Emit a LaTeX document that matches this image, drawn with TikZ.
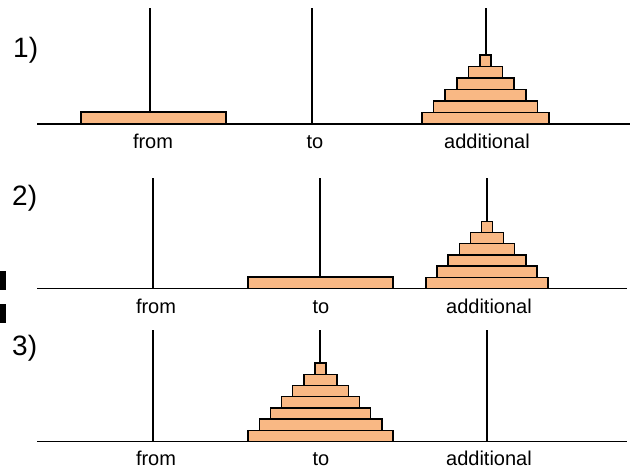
\documentclass[tikz,border=0pt]{standalone}
\usepackage{fontspec}
\setmainfont{Liberation Sans}
\usepackage{xcolor}
\usetikzlibrary{positioning}
\definecolor{DiskOrange}{HTML}{F9B884}

% stack of disks: x, base, count, width step, disk height
\newcommand{\diskstack}[5]{%
  \foreach \i in {1,...,#3} {
    \pgfmathsetmacro{\hw}{(11+#4*(#3-\i))/2}
    \draw[disk] ({#1-\hw},{#2-(\i-1)*#5}) rectangle ({#1+\hw},{#2-\i*#5});
  }%
}

\begin{document}
\begin{tikzpicture}[x=1pt, y=-1pt,
        peg/.style={draw=black, line width=1.4pt},
        ground/.style={draw=black, line width=1.6pt},
        disk/.style={draw=black, fill=DiskOrange, line width=1.5pt},
        panelnum/.style={anchor=base west, inner sep=0pt, font=\fontsize{28}{30}\selectfont},
        peglabel/.style={anchor=base, inner sep=0pt, font=\fontsize{20}{22}\selectfont}
    ]
        \useasboundingbox (0,0) rectangle (637,469);

        % marks on the left edge
        \fill[black] (0,271) rectangle (6,290);
        \fill[black] (0,304) rectangle (6,323);

        % Panel 1
        \node[panelnum] (num1) at (13,57) {1)};
        \draw[ground] (37,124) -- (630,124);
        \foreach \x in {150,312,486} \draw[peg] (\x,8) -- (\x,124);
        \draw[disk] (81,124) rectangle (226,112);
        \diskstack{485.5}{124}{6}{23.2}{11.5}
        \node[peglabel] (from1) at (153,148) {from};
        \node[peglabel] (to1) at (315,148) {to};
        \node[peglabel] (add1) at (487,148) {additional};

        % Panel 2
        \node[panelnum] (num2) at (12,205) {2)};
        \draw[ground] (37,288.5) -- (627,288.5);
        \foreach \x in {153,320,487} \draw[peg] (\x,178) -- (\x,288.5);
        \draw[disk] (248,288.5) rectangle (393,277);
        \diskstack{487}{288.5}{6}{22.2}{11.2}
        \node[peglabel] (from2) at (156,313) {from};
        \node[peglabel] (to2) at (321,313) {to};
        \node[peglabel] (add2) at (489,313) {additional};

        % Panel 3
        \node[panelnum] (num3) at (12,355) {3)};
        \draw[ground] (37,441.5) -- (627,441.5);
        \foreach \x in {153,320,487} \draw[peg] (\x,330) -- (\x,441.5);
        \diskstack{320.5}{441.5}{7}{22.3}{11.2}
        \node[peglabel] (from3) at (156,465) {from};
        \node[peglabel] (to3) at (321,465) {to};
        \node[peglabel] (add3) at (489,465) {additional};
    \end{tikzpicture}
\end{document}
